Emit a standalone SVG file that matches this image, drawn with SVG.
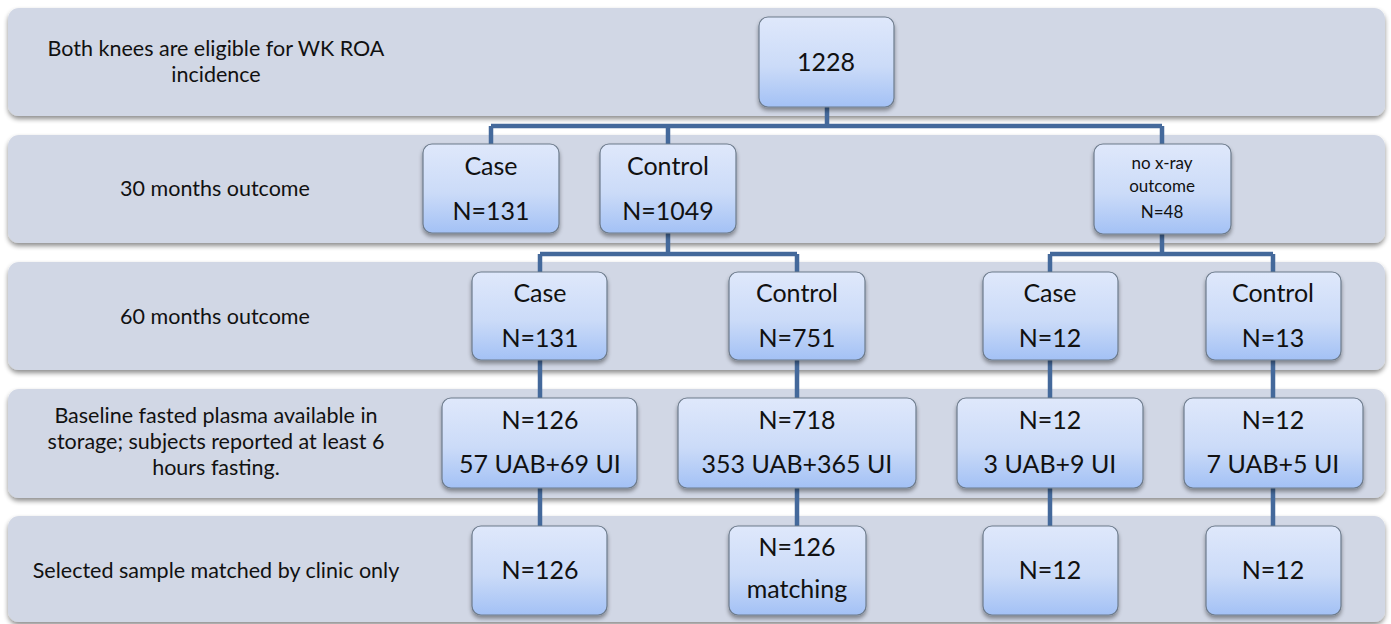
<svg xmlns="http://www.w3.org/2000/svg" width="1391" height="624" viewBox="0 0 1391 624">
  <defs>
    <linearGradient id="nodeFill" x1="0" y1="0" x2="0" y2="1">
      <stop offset="0" stop-color="#dfe8fb"/>
      <stop offset="0.55" stop-color="#cbdbf8"/>
      <stop offset="1" stop-color="#a3c1f5"/>
    </linearGradient>
    <filter id="bandShadow" x="-2%" y="-10%" width="104%" height="130%">
      <feGaussianBlur in="SourceAlpha" stdDeviation="2.5"/>
      <feOffset dx="0" dy="3" result="b"/>
      <feComponentTransfer><feFuncA type="linear" slope="0.45"/></feComponentTransfer>
      <feMerge><feMergeNode/><feMergeNode in="SourceGraphic"/></feMerge>
    </filter>
    <filter id="nodeShadow" x="-10%" y="-10%" width="120%" height="130%">
      <feGaussianBlur in="SourceAlpha" stdDeviation="2"/>
      <feOffset dx="0" dy="3" result="b"/>
      <feComponentTransfer><feFuncA type="linear" slope="0.4"/></feComponentTransfer>
      <feMerge><feMergeNode/><feMergeNode in="SourceGraphic"/></feMerge>
    </filter>
  </defs>
  <style>
    .band { fill: #d1d7e5; filter: url(#bandShadow); }
    .node { fill: url(#nodeFill); stroke: #6d7b8c; stroke-width: 1.2; filter: url(#nodeShadow); }
    .lbl { font-family: Lato, "Liberation Sans", sans-serif; font-size: 21.5px; fill: #111; text-anchor: middle; }
    .t { font-family: Lato, "Liberation Sans", sans-serif; font-size: 25px; fill: #111; text-anchor: middle; }
    .ts { font-family: Lato, "Liberation Sans", sans-serif; font-size: 17px; fill: #111; text-anchor: middle; }
    .conn { fill: none; stroke: #44699b; stroke-width: 4.5; }
  </style>

  <rect width="1391" height="624" fill="#ffffff"/>

  <!-- horizontal stage bands with their row labels -->
  <g id="band1">
    <rect class="band" x="8" y="8" width="1377" height="108" rx="11"/>
    <text class="lbl" x="216" y="56">Both knees are eligible for WK ROA</text>
    <text class="lbl" x="216" y="82">incidence</text>
  </g>
  <g id="band2">
    <rect class="band" x="8" y="135" width="1377" height="108" rx="11"/>
    <text class="lbl" x="215" y="196">30 months outcome</text>
  </g>
  <g id="band3">
    <rect class="band" x="8" y="262" width="1377" height="108" rx="11"/>
    <text class="lbl" x="215" y="324">60 months outcome</text>
  </g>
  <g id="band4">
    <rect class="band" x="8" y="389" width="1377" height="109" rx="11"/>
    <text class="lbl" x="216" y="423">Baseline fasted plasma available in</text>
    <text class="lbl" x="216" y="449">storage; subjects reported at least 6</text>
    <text class="lbl" x="216" y="475">hours fasting.</text>
  </g>
  <g id="band5">
    <rect class="band" x="8" y="516" width="1377" height="106" rx="11"/>
    <text class="lbl" x="216" y="578">Selected sample matched by clinic only</text>
  </g>

  <!-- tree connectors -->
  <g id="connectors">
    <path class="conn" d="M827 107 V126 M491 126 H1162 M491 126 V144 M668 126 V144 M1162 126 V144"/>
    <path class="conn" d="M668 233 V254 M540 254 H797 M540 254 V272 M797 254 V272"/>
    <path class="conn" d="M1162 234 V254 M1050 254 H1273 M1050 254 V272 M1273 254 V272"/>
    <path class="conn" d="M540 360 V526 M797 360 V526 M1050 360 V526 M1273 360 V526"/>
  </g>

  <!-- row 1 -->
  <g id="n1228">
    <rect class="node" x="759" y="17" width="135" height="90" rx="9"/>
    <text class="t" x="826" y="71">1228</text>
  </g>

  <!-- row 2: 30 months -->
  <g id="n30case">
    <rect class="node" x="423" y="144" width="136" height="89" rx="9"/>
    <text class="t" x="491" y="175">Case</text>
    <text class="t" x="491" y="220">N=131</text>
  </g>
  <g id="n30control">
    <rect class="node" x="600" y="144" width="136" height="89" rx="9"/>
    <text class="t" x="668" y="175">Control</text>
    <text class="t" x="668" y="220">N=1049</text>
  </g>
  <g id="n30noxray">
    <rect class="node" x="1094" y="144" width="137" height="90" rx="9"/>
    <text class="ts" x="1162" y="169">no x-ray</text>
    <text class="ts" x="1162" y="192">outcome</text>
    <text class="ts" x="1162" y="218">N=48</text>
  </g>

  <!-- row 3: 60 months -->
  <g id="n60case">
    <rect class="node" x="472" y="272" width="135" height="88" rx="9"/>
    <text class="t" x="540" y="302">Case</text>
    <text class="t" x="540" y="347">N=131</text>
  </g>
  <g id="n60control">
    <rect class="node" x="729" y="272" width="136" height="88" rx="9"/>
    <text class="t" x="797" y="302">Control</text>
    <text class="t" x="797" y="347">N=751</text>
  </g>
  <g id="n60case12">
    <rect class="node" x="983" y="272" width="135" height="88" rx="9"/>
    <text class="t" x="1050" y="302">Case</text>
    <text class="t" x="1050" y="347">N=12</text>
  </g>
  <g id="n60control13">
    <rect class="node" x="1206" y="272" width="135" height="88" rx="9"/>
    <text class="t" x="1273" y="302">Control</text>
    <text class="t" x="1273" y="347">N=13</text>
  </g>

  <!-- row 4: baseline plasma -->
  <g id="nb126">
    <rect class="node" x="442" y="398" width="195" height="90" rx="9"/>
    <text class="t" x="540" y="429">N=126</text>
    <text class="t" x="540" y="473">57 UAB+69 UI</text>
  </g>
  <g id="nb718">
    <rect class="node" x="678" y="398" width="238" height="90" rx="9"/>
    <text class="t" x="797" y="429">N=718</text>
    <text class="t" x="797" y="473">353 UAB+365 UI</text>
  </g>
  <g id="nb12a">
    <rect class="node" x="957" y="398" width="186" height="90" rx="9"/>
    <text class="t" x="1050" y="429">N=12</text>
    <text class="t" x="1050" y="473">3 UAB+9 UI</text>
  </g>
  <g id="nb12b">
    <rect class="node" x="1184" y="398" width="179" height="90" rx="9"/>
    <text class="t" x="1273" y="429">N=12</text>
    <text class="t" x="1273" y="473">7 UAB+5 UI</text>
  </g>

  <!-- row 5: selected sample -->
  <g id="ns126">
    <rect class="node" x="472" y="526" width="135" height="89" rx="9"/>
    <text class="t" x="540" y="579">N=126</text>
  </g>
  <g id="ns126m">
    <rect class="node" x="729" y="526" width="137" height="89" rx="9"/>
    <text class="t" x="797" y="556">N=126</text>
    <text class="t" x="797" y="598">matching</text>
  </g>
  <g id="ns12a">
    <rect class="node" x="983" y="526" width="135" height="89" rx="9"/>
    <text class="t" x="1050" y="579">N=12</text>
  </g>
  <g id="ns12b">
    <rect class="node" x="1206" y="526" width="135" height="89" rx="9"/>
    <text class="t" x="1273" y="579">N=12</text>
  </g>
</svg>
